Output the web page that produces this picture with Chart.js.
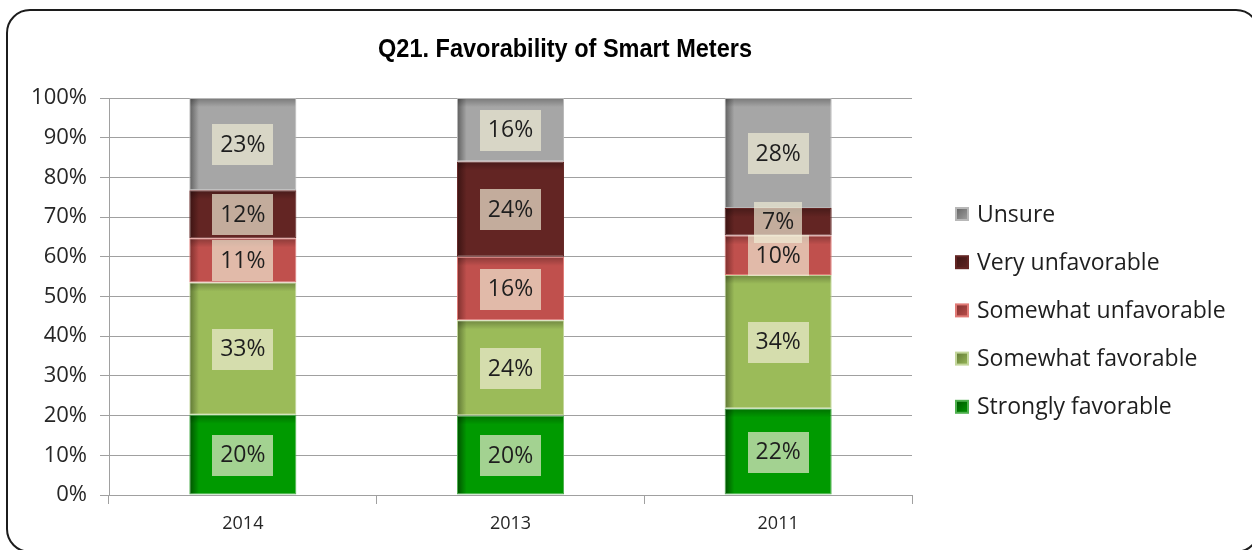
<!DOCTYPE html>
<html>
<head>
<meta charset="utf-8">
<script src="https://cdn.jsdelivr.net/npm/chart.js@4"></script>
<style>
  body { margin: 0; background: #fff; overflow: hidden; }
  .frame {
    position: absolute; left: 6px; top: 9px; width: 1250px; height: 540px;
    border: 2px solid #1c1c1c; border-radius: 24px;
  }
  canvas { position: absolute; left: 0; top: 0; }
</style>
</head>
<body>
<div class="frame"></div>
<canvas id="chart" width="1252" height="550"></canvas>
<script>
const years = ["2014", "2013", "2011"];
const seriesNames = ["Strongly favorable", "Somewhat favorable", "Somewhat unfavorable", "Very unfavorable", "Unsure"];
const stronglyFavorable = [20, 20, 22];
const somewhatFavorable = [33, 24, 34];
const somewhatUnfavorable = [11, 16, 10];
const veryUnfavorable = [12, 24, 7];
const unsure = [23, 16, 28];
const yTicks = [0, 10, 20, 30, 40, 50, 60, 70, 80, 90, 100];
const titleText = "Q21. Favorability of Smart Meters";

const allValues = [stronglyFavorable, somewhatFavorable, somewhatUnfavorable, veryUnfavorable, unsure];
const baseColors = ["#009a00", "#9bbb59", "#c0504d", "#632523", "#a6a6a6"];
const darkColors = ["#005000", "#5e7534", "#7c2f2d", "#3a1312", "#5e5e5e"];
const edgeColors = ["#4fb04f", "#c3d69b", "#e07a76", "#632523", "#b8b8b8"];

// excel 100% stacked: each column scaled to its own total
const totals = years.map((y, j) => allValues.reduce((s, arr) => s + arr[j], 0));

function shade(i) {
  return (c) => {
    const chart = c.chart;
    if (!chart.chartArea) return baseColors[i];
    const xs = chart.scales.x;
    const cx = xs.getPixelForValue(c.dataIndex);
    const w = xs.width / years.length * 0.4;
    const g = chart.ctx.createLinearGradient(cx - w / 2, 0, cx + w / 2, 0);
    g.addColorStop(0, darkColors[i]);
    g.addColorStop(0.09, baseColors[i]);
    g.addColorStop(1, baseColors[i]);
    return g;
  };
}

const datasets = allValues.map((vals, i) => ({
  label: seriesNames[i],
  data: vals.map((v, j) => v / totals[j] * 100),
  raw: vals,
  backgroundColor: shade(i),
  borderColor: edgeColors[i],
  borderWidth: 1,
  borderSkipped: false,
  barPercentage: 0.4,
  categoryPercentage: 1,
}));

const font = "'Open Sans'";

const extras = {
  id: "extras",
  afterDatasetsDraw(chart) {
    const ctx = chart.ctx;
    ctx.save();
    // top inner shadow of each segment
    chart.data.datasets.forEach((ds, i) => {
      chart.getDatasetMeta(i).data.forEach((bar) => {
        const g = ctx.createLinearGradient(0, bar.y, 0, bar.y + 9);
        g.addColorStop(0, "rgba(0,0,0,0.28)");
        g.addColorStop(1, "rgba(0,0,0,0)");
        ctx.fillStyle = g;
        ctx.fillRect(bar.x - bar.width / 2 + 1, bar.y + 1, bar.width - 2, 9);
      });
    });
    ctx.font = "23px " + font;
    ctx.textAlign = "center";
    ctx.textBaseline = "middle";
    chart.data.datasets.forEach((ds, i) => {
      chart.getDatasetMeta(i).data.forEach((bar, j) => {
        const txt = ds.raw[j] + "%";
        const cy = (bar.y + bar.base) / 2;
        const tw = ctx.measureText(txt).width + 16;
        ctx.fillStyle = "rgba(240,238,214,0.68)";
        ctx.fillRect(Math.round(bar.x - tw / 2), Math.round(cy - 20), Math.round(tw), 41);
        ctx.fillStyle = "#1e1e1e";
        ctx.fillText(txt, bar.x, cy + 1);
      });
    });
    ctx.restore();
  },
  afterDraw(chart) {
    const ctx = chart.ctx;
    ctx.save();
    // title
    ctx.font = "bold 25px 'Liberation Sans'";
    ctx.fillStyle = "#000";
    ctx.textAlign = "center";
    ctx.textBaseline = "middle";
    const tw = ctx.measureText(titleText).width;
    const sx = 374 / tw;
    ctx.translate(565, 50);
    ctx.scale(sx, 1);
    ctx.fillText(titleText, 0, 0);
    ctx.setTransform(1, 0, 0, 1, 0, 0);
    // legend
    ctx.font = "23px " + font;
    ctx.textAlign = "left";
    const x0 = 955;
    const top = 214;
    for (let k = 0; k < seriesNames.length; k++) {
      const i = seriesNames.length - 1 - k;
      const y = top + k * 48.2;
      const g = ctx.createLinearGradient(x0, y - 7, x0 + 14, y + 7);
      g.addColorStop(0, darkColors[i]);
      g.addColorStop(1, baseColors[i]);
      ctx.fillStyle = edgeColors[i];
      ctx.fillRect(x0, y - 7, 14, 14);
      ctx.fillStyle = g;
      ctx.fillRect(x0 + 2, y - 5, 10, 10);
      ctx.fillStyle = "#1e1e1e";
      ctx.fillText(seriesNames[i], 977, y + 1);
    }
    ctx.restore();
  },
};

new Chart(document.getElementById("chart"), {
  type: "bar",
  data: { labels: years, datasets: datasets },
  options: {
    responsive: false,
    animation: false,
    layout: { padding: { left: 0, right: 340, top: 98, bottom: 0 } },
    plugins: {
      legend: { display: false },
      tooltip: { enabled: false },
      title: { display: false },
    },
    scales: {
      x: {
        stacked: true,
        grid: { display: true, drawOnChartArea: false, drawTicks: true, tickLength: 9, color: "#a0a0a0", offset: true },
        border: { color: "#a0a0a0" },
        ticks: { color: "#262626", font: { family: font, size: 18 }, padding: 9 },
        afterFit: (s) => { s.height = 55; },
      },
      y: {
        stacked: true,
        min: 0,
        max: 100,
        afterBuildTicks: (s) => { s.ticks = yTicks.map((v) => ({ value: v })); },
        grid: { color: "#a0a0a0", tickLength: 9 },
        border: { color: "#a0a0a0" },
        ticks: {
          color: "#262626",
          font: { family: font, size: 22 },
          padding: 13,
          callback: (v) => v + "%",
        },
        afterFit: (s) => { s.width = 109; },
      },
    },
  },
  plugins: [extras],
});
</script>
</body>
</html>
